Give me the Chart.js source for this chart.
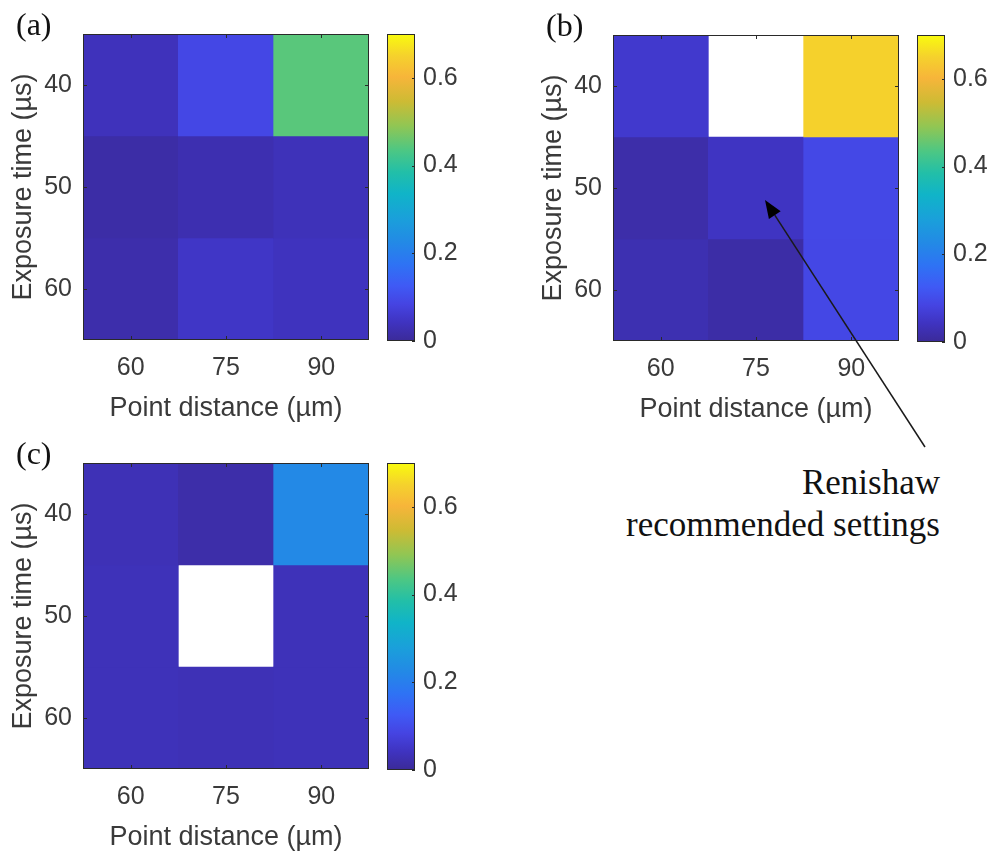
<!DOCTYPE html>
<html>
<head>
<meta charset="utf-8">
<script src="https://cdn.jsdelivr.net/npm/chart.js@4.4.1/dist/chart.umd.min.js"></script>
<style>
  body { margin: 0; background: #fff; width: 993px; height: 851px; position: relative; overflow: hidden; }
  canvas { position: absolute; }
  #note { position: absolute; right: 53px; top: 462px; font: 35px "Liberation Serif", serif; line-height: 42px; text-align: right; color: #111; }
</style>
</head>
<body>
<div id="note">Renishaw<br>recommended settings</div>
<canvas id="arrow" width="993" height="851" style="left:0;top:0;z-index:2;pointer-events:none"></canvas>
<script>
const distances = [60, 75, 90];   // point distance (µm)
const exposures = [40, 50, 60];   // exposure time (µs)

// one row per exposure time, one column per point distance, null = no data (white)
const panelA = [
  [0.037, 0.090, 0.445],
  [0.015, 0.025, 0.035],
  [0.020, 0.050, 0.040]
];
const panelB = [
  [0.058, null, 0.650],
  [0.018, 0.045, 0.092],
  [0.026, 0.015, 0.090]
];
const panelC = [
  [0.032, 0.018, 0.224],
  [0.035, null, 0.035],
  [0.035, 0.032, 0.035]
];

const colorMax = 0.7;
const colorTicks = [0, 0.2, 0.4, 0.6];

// parula-like stops
const parulaStops = [
  [0.00, '#3b2a98'], [0.06, '#3f33c0'], [0.12, '#4544e2'], [0.18, '#3f5af5'],
  [0.25, '#2e73f4'], [0.32, '#2389e6'], [0.40, '#1aa0da'], [0.48, '#10b4c8'],
  [0.55, '#22bfa8'], [0.62, '#4cc784'], [0.70, '#90c654'], [0.78, '#cdbb34'],
  [0.86, '#f7b53a'], [0.93, '#f5d22c'], [1.00, '#f9fb0e']
];

function hex(c) { return [1, 3, 5].map(i => parseInt(c.slice(i, i + 2), 16)); }
function parula(f) {
  f = Math.max(0, Math.min(1, f));
  for (let i = 1; i < parulaStops.length; i++) {
    const [f1, c1] = parulaStops[i];
    if (f <= f1) {
      const [f0, c0] = parulaStops[i - 1];
      const t = (f - f0) / (f1 - f0);
      const a = hex(c0), b = hex(c1);
      return 'rgb(' + a.map((v, k) => Math.round(v + (b[k] - v) * t)).join(',') + ')';
    }
  }
  return parulaStops[parulaStops.length - 1][1];
}

const tickFont = { family: '"Liberation Sans", Arial, sans-serif', size: 25 };
const titleFont = { family: '"Liberation Sans", Arial, sans-serif', size: 27 };
const textColor = '#3a3a3a';

// frame, inner tick marks and panel letter
const boxPlugin = {
  id: 'box',
  afterDraw(chart, args, opts) {
    const { ctx, chartArea: a } = chart;
    ctx.save();
    ctx.strokeStyle = '#2a2a2a';
    ctx.lineWidth = 1;
    ctx.beginPath();
    if (opts.heat) {
      const xs = chart.scales.x, ys = chart.scales.y;
      distances.forEach((d, j) => {
        const px = Math.round(xs.getPixelForValue(j)) + 0.5;
        ctx.moveTo(px, a.top); ctx.lineTo(px, a.top + 4);
        ctx.moveTo(px, a.bottom); ctx.lineTo(px, a.bottom - 4);
      });
      exposures.forEach(e => {
        const py = Math.round(ys.getPixelForValue(e)) + 0.5;
        ctx.moveTo(a.left, py); ctx.lineTo(a.left + 4, py);
        ctx.moveTo(a.right, py); ctx.lineTo(a.right - 4, py);
      });
    } else {
      const ys = chart.scales.y;
      colorTicks.forEach(v => {
        const py = Math.round(ys.getPixelForValue(v)) + 0.5;
        ctx.moveTo(a.right, py); ctx.lineTo(a.right - 3, py);
      });
    }
    ctx.stroke();
    ctx.strokeRect(a.left + 0.5, a.top + 0.5, a.right - a.left - 1, a.bottom - a.top - 1);
    if (opts.letter) {
      ctx.font = '32px "Liberation Serif", serif';
      ctx.fillStyle = '#111';
      ctx.textBaseline = 'middle';
      ctx.fillText(opts.letter, 16, 27);
    }
    ctx.restore();
  }
};

function addCanvas(left, top, w, h) {
  const c = document.createElement('canvas');
  c.width = w; c.height = h;
  c.style.left = left + 'px'; c.style.top = top + 'px';
  c.style.width = w + 'px'; c.style.height = h + 'px';
  document.body.appendChild(c);
  return c;
}

function makePanel(values, letter, ox, oy) {
  const half = (exposures[1] - exposures[0]) / 2;
  const heat = new Chart(addCanvas(ox, oy, 380, 425), {
    type: 'bar',
    data: {
      labels: distances.map(String),
      datasets: exposures.map((e, i) => ({
        label: e + ' µs',
        data: values[i].map(v => v === null ? null : [e - half, e + half]),
        backgroundColor: values[i].map(v => v === null ? 'rgba(0,0,0,0)' : parula(v / colorMax)),
        barPercentage: 1,
        categoryPercentage: 1,
        grouped: false,
        borderWidth: 0
      }))
    },
    options: {
      responsive: false,
      animation: false,
      layout: { padding: { top: 34, right: 11, left: 0, bottom: 0 } },
      plugins: { legend: { display: false }, tooltip: { enabled: false }, box: { heat: true, letter: letter } },
      scales: {
        x: {
          grid: { display: false, drawTicks: false },
          border: { display: false },
          ticks: { font: tickFont, color: textColor, padding: 13 },
          title: { display: true, text: 'Point distance (µm)', font: titleFont, color: textColor, padding: { top: 6, bottom: 0 } },
          afterFit: s => { s.height = 85; }
        },
        y: {
          type: 'linear',
          min: exposures[0] - half,
          max: exposures[exposures.length - 1] + half,
          reverse: true,
          grid: { display: false, drawTicks: false },
          border: { display: false },
          afterBuildTicks: s => { s.ticks = exposures.map(v => ({ value: v })); },
          ticks: { font: tickFont, color: textColor, padding: 11, callback: v => String(v) },
          title: { display: true, text: 'Exposure time (µs)', font: titleFont, color: textColor, padding: { top: 7, bottom: 0 } },
          afterFit: s => { s.width = 83; }
        }
      }
    },
    plugins: [boxPlugin]
  });

  new Chart(addCanvas(ox + 380, oy, 100, 425), {
    type: 'bar',
    data: {
      labels: [''],
      datasets: [{
        data: [[0, colorMax]],
        backgroundColor: c => {
          const a = c.chart.chartArea;
          if (!a) return 'rgba(0,0,0,0)';
          const g = c.chart.ctx.createLinearGradient(0, a.bottom, 0, a.top);
          parulaStops.forEach(([f, col]) => g.addColorStop(f, col));
          return g;
        },
        barPercentage: 1,
        categoryPercentage: 1,
        borderWidth: 0
      }]
    },
    options: {
      responsive: false,
      animation: false,
      layout: { padding: { left: 7, top: 34, bottom: 84, right: 0 } },
      plugins: { legend: { display: false }, tooltip: { enabled: false }, box: { heat: false } },
      scales: {
        x: { display: false },
        y: {
          position: 'right',
          min: 0,
          max: colorMax,
          grid: { display: false, drawTicks: false },
          border: { display: false },
          afterBuildTicks: s => { s.ticks = colorTicks.map(v => ({ value: v })); },
          ticks: { font: tickFont, color: textColor, padding: 8, callback: v => String(v) },
          afterFit: s => { s.width = 65; }
        }
      }
    },
    plugins: [boxPlugin]
  });
  return heat;
}

makePanel(panelA, '(a)', 0, 0);
const chartB = makePanel(panelB, '(b)', 530, 1);
makePanel(panelC, '(c)', 0, 429);

// arrow pointing at the 75 µm / 50 µs cell of panel (b)
const tipX = 530 + chartB.scales.x.getPixelForValue(1) + 9;
const tipY = 1 + chartB.scales.y.getPixelForValue(50) + 12;
const tailX = 925, tailY = 447;
const actx = document.getElementById('arrow').getContext('2d');
const ang = Math.atan2(tipY - tailY, tipX - tailX);
const headLen = 18, headW = 7;
const bx = tipX - headLen * Math.cos(ang), by = tipY - headLen * Math.sin(ang);
actx.strokeStyle = '#1a1a1a';
actx.lineWidth = 1.5;
actx.beginPath();
actx.moveTo(tailX, tailY);
actx.lineTo(bx, by);
actx.stroke();
actx.fillStyle = '#000';
actx.beginPath();
actx.moveTo(tipX, tipY);
actx.lineTo(bx + headW * Math.sin(ang), by - headW * Math.cos(ang));
actx.lineTo(bx - headW * Math.sin(ang), by + headW * Math.cos(ang));
actx.closePath();
actx.fill();
</script>
</body>
</html>
